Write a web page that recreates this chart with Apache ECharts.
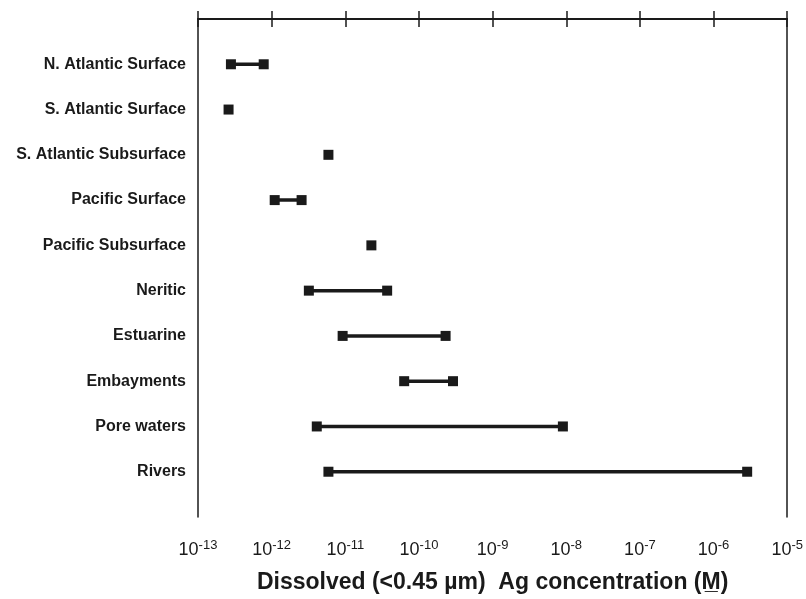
<!DOCTYPE html>
<html><head><meta charset="utf-8">
<script src="https://cdn.jsdelivr.net/npm/echarts@6/dist/echarts.min.js"></script>
<style>html,body{margin:0;padding:0;background:#fff}#c{width:806px;height:599px}</style>
</head><body><div id="c"></div>
<script>
var categories = ["N. Atlantic Surface","S. Atlantic Surface","S. Atlantic Subsurface","Pacific Surface","Pacific Subsurface","Neritic","Estuarine","Embayments","Pore waters","Rivers"];
var lowValues  = [2.8e-13, 2.6e-13, 5.9e-12, 1.1e-12, 2.26e-11, 3.2e-12, 9.2e-12, 6.3e-11, 4.1e-12, 5.9e-12];
var highValues = [7.8e-13, null,    null,    2.55e-12, null,    3.7e-11, 2.3e-10, 2.9e-10, 9.0e-9, 2.86e-6];
var xTickExponents = [-13,-12,-11,-10,-9,-8,-7,-6,-5];

var chart = echarts.init(document.getElementById('c'));
var ink = '#1a1a1a';
var fam = "'Liberation Sans', Arial, Helvetica, sans-serif";
var series = categories.map(function(name, i){
  var pts = [[lowValues[i], i+1]];
  if (highValues[i] !== null) pts.push([highValues[i], i+1]);
  return {type:'line', name:name, data:pts, symbol:'rect', symbolSize:10, showSymbol:true,
    lineStyle:{color:ink, width:3.5}, itemStyle:{color:ink}, animation:false, xAxisIndex:0, yAxisIndex:0, z:5};
});
function xAx(pos, inside, showLabel){
  return {type:'log', logBase:10, min:Math.pow(10,xTickExponents[0]), max:Math.pow(10,xTickExponents[xTickExponents.length-1]),
    position:pos, splitNumber:8,
    axisLine:{show:true, lineStyle:{color:ink, width:1.5}},
    axisTick:{show:true, inside:inside, length:8, lineStyle:{color:ink, width:1.5}},
    splitLine:{show:false}, minorTick:{show:false},
    axisLabel:{show:showLabel, margin:22, formatter:function(v){
        var e = Math.round(Math.log(v)/Math.LN10);
        return '{b|10}{s|' + e + '}';
      },
      rich:{b:{fontSize:18, fontFamily:fam, color:ink},
            s:{fontSize:13, fontFamily:fam, color:ink, padding:[0,0,10,0]}}},
    name: showLabel ? 'Dissolved (<0.45 µm)  Ag concentration (M\u0332)' : '',
    nameLocation:'middle', nameGap:54,
    nameTextStyle:{fontSize:23, fontWeight:'bold', fontFamily:fam, color:ink}
  };
}
var option = {
  backgroundColor:'#fff',
  animation:false,
  grid:{left:198, right:18, top:19, bottom:79},
  xAxis:[xAx('bottom', false, true), xAx('bottom', true, false), xAx('top', false, false), xAx('top', true, false)],
  yAxis:[
    {type:'value', min:0, max:11, interval:1, inverse:true, position:'left',
     axisLine:{show:true, lineStyle:{color:ink, width:1.5}}, axisTick:{show:false}, splitLine:{show:false},
     axisLabel:{margin:12, color:ink, fontSize:16, fontWeight:'bold', fontFamily:fam,
       formatter:function(v){ return categories[v-1] || ''; }}},
    {type:'value', min:0, max:11, inverse:true, position:'right',
     axisLine:{show:true, lineStyle:{color:ink, width:1.5}}, axisTick:{show:false}, axisLabel:{show:false}, splitLine:{show:false}}
  ],
  series: series
};
chart.setOption(option);
</script></body></html>
